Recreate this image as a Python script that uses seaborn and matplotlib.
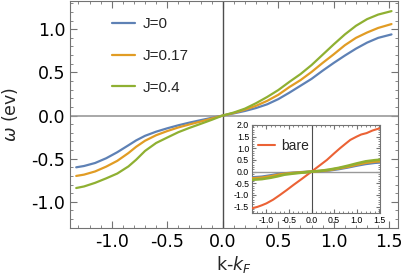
import numpy as np
import pandas as pd
import matplotlib
matplotlib.use('Agg')
import matplotlib.pyplot as plt
from matplotlib.ticker import MultipleLocator, AutoMinorLocator
import seaborn as sns

# Valores
k = [-1.32, -1.25, -1.15, -1.05, -0.95, -0.85, -0.78, -0.70, -0.60, -0.50,
     -0.40, -0.30, -0.20, -0.10, 0.0, 0.10, 0.20, 0.30, 0.40, 0.50,
     0.60, 0.70, 0.80, 0.90, 1.00, 1.10, 1.20, 1.30, 1.40, 1.52]
w_j0 = [-0.600, -0.585, -0.550, -0.495, -0.425, -0.345, -0.288, -0.235, -0.187, -0.148,
        -0.113, -0.082, -0.054, -0.027, 0.0, 0.025, 0.053, 0.087, 0.130, 0.190,
        0.265, 0.345, 0.425, 0.520, 0.610, 0.695, 0.775, 0.845, 0.900, 0.940]
w_j017 = [-0.700, -0.685, -0.648, -0.592, -0.525, -0.435, -0.362, -0.292, -0.228, -0.180,
          -0.138, -0.103, -0.070, -0.035, 0.0, 0.030, 0.068, 0.113, 0.170, 0.240,
          0.330, 0.410, 0.505, 0.610, 0.710, 0.815, 0.900, 0.962, 1.015, 1.060]
w_j04 = [-0.840, -0.822, -0.780, -0.728, -0.672, -0.590, -0.512, -0.410, -0.318, -0.255,
         -0.193, -0.143, -0.097, -0.050, 0.0, 0.035, 0.080, 0.143, 0.215, 0.295,
         0.390, 0.480, 0.585, 0.705, 0.825, 0.940, 1.040, 1.117, 1.170, 1.210]

# Inset
k_in = [-1.32, -1.1, -0.9, -0.75, -0.6, -0.4, -0.2, 0.0, 0.2, 0.4, 0.6, 0.8,
        1.0, 1.2, 1.4, 1.52]
w_in_j0 = [-0.25, -0.22, -0.16, -0.11, -0.078, -0.048, -0.023, 0.0, 0.022, 0.055,
           0.11, 0.18, 0.26, 0.33, 0.38, 0.395]
w_in_j017 = [-0.29, -0.26, -0.20, -0.14, -0.095, -0.058, -0.029, 0.0, 0.029, 0.071,
             0.14, 0.21, 0.30, 0.38, 0.43, 0.445]
w_in_j04 = [-0.35, -0.32, -0.26, -0.20, -0.13, -0.081, -0.041, 0.0, 0.034, 0.09,
            0.16, 0.25, 0.35, 0.44, 0.49, 0.51]

k_bare = [-1.32, -1.2, -1.1, -1.0, -0.85, -0.70, -0.55, -0.40, -0.20, 0.0,
          0.17, 0.34, 0.50, 0.63, 0.75, 0.86, 1.0, 1.1, 1.22, 1.35, 1.45, 1.52]
w_bare = [-1.57, -1.51, -1.44, -1.36, -1.20, -1.0, -0.79, -0.57, -0.29, 0.0,
          0.25, 0.50, 0.78, 1.0, 1.19, 1.36, 1.50, 1.59, 1.65, 1.76, 1.82, 1.86]

labels = ['J=0', 'J=0.17', 'J=0.4']
colors = {'J=0': '#5E81B5', 'J=0.17': '#E19C24', 'J=0.4': '#8FB032', 'bare': '#EB6235'}

df = pd.concat([
    pd.DataFrame({'k': k, 'w': w, 'serie': lab})
    for w, lab in zip([w_j0, w_j017, w_j04], labels)
], ignore_index=True)
df_in = pd.concat([
    pd.DataFrame({'k': k_in, 'w': w, 'serie': lab})
    for w, lab in zip([w_in_j0, w_in_j017, w_in_j04], labels)
], ignore_index=True)
df_bare = pd.DataFrame({'k': k_bare, 'w': w_bare, 'serie': 'bare'})

sns.set_style('ticks')
plt.rcParams['font.family'] = ['DejaVu Sans']
plt.rcParams['axes.unicode_minus'] = True

frame_col = '0.45'


def estilo(ax, size, maj, mino, fam):
    ax.tick_params(which='both', direction='in', top=True, right=True,
                   colors=frame_col, labelcolor='black', labelsize=size)
    ax.tick_params(which='major', length=maj, width=0.8)
    ax.tick_params(which='minor', length=mino, width=0.6)
    ax.xaxis.set_minor_locator(AutoMinorLocator(5))
    ax.yaxis.set_minor_locator(AutoMinorLocator(5))
    for t in ax.get_xticklabels() + ax.get_yticklabels():
        t.set_family(fam)
    for s in ax.spines.values():
        s.set_color(frame_col)
        s.set_linewidth(0.8)


fig = plt.figure(figsize=(4.07, 2.77), dpi=100)
ax = fig.add_axes([0.172, 0.177, 0.806, 0.819])

ax.axhline(0, color='0.6', lw=1.2, zorder=1)
ax.axvline(0, color='0.3', lw=1.0, zorder=1)
sns.lineplot(data=df, x='k', y='w', hue='serie', palette=colors, lw=1.6,
             ax=ax, legend=False, zorder=3)
ax.set_xlim(-1.376, 1.579)
ax.set_ylim(-1.303, 1.326)
ax.xaxis.set_major_locator(MultipleLocator(0.5))
ax.yaxis.set_major_locator(MultipleLocator(0.5))
ax.xaxis.set_major_formatter(plt.FormatStrFormatter('%.1f'))
ax.yaxis.set_major_formatter(plt.FormatStrFormatter('%.1f'))
estilo(ax, 12.5, 5, 2.5, 'DejaVu Sans')
ax.set_xlabel('k-$k_F$', fontsize=12.5, labelpad=2)
ax.set_ylabel(r'$\omega$ (ev)', fontsize=12.5, labelpad=8)

handles = [plt.Line2D([], [], color=colors[l], lw=1.6) for l in labels]
ax.legend(handles, labels, loc='upper left', bbox_to_anchor=(0.128, 0.928),
          frameon=False, prop={'family': 'Liberation Sans', 'size': 11},
          labelspacing=1.15, handlelength=1.5, handletextpad=0.5,
          borderpad=0, borderaxespad=0)

# Inset
ins = fig.add_axes([0.619, 0.232, 0.315, 0.317])
ins.set_facecolor('white')
ins.axhline(0, color='0.6', lw=1.0, zorder=1)
ins.axvline(0, color='0.3', lw=0.8, zorder=1)
sns.lineplot(data=df_bare, x='k', y='w', color=colors['bare'], lw=1.5,
             ax=ins, legend=False, zorder=3)
sns.lineplot(data=df_in, x='k', y='w', hue='serie', palette=colors, lw=1.9,
             ax=ins, legend=False, zorder=3)
ins.set_xlim(-1.32, 1.52)
ins.set_ylim(-1.76, 2.0)
ins.xaxis.set_major_locator(MultipleLocator(0.5))
ins.yaxis.set_major_locator(MultipleLocator(0.5))
ins.xaxis.set_major_formatter(plt.FormatStrFormatter('%.1f'))
ins.yaxis.set_major_formatter(plt.FormatStrFormatter('%.1f'))
estilo(ins, 6.3, 3, 1.5, 'Liberation Sans')
ins.tick_params(which='both', pad=2)
ins.set_xlabel('')
ins.set_ylabel('')
ins.legend([plt.Line2D([], [], color=colors['bare'], lw=1.5)], ['bare'],
           loc='upper left', bbox_to_anchor=(0.047, 0.84), frameon=False,
           prop={'family': 'Liberation Sans', 'size': 10}, handlelength=1.2,
           handletextpad=0.5, borderpad=0, borderaxespad=0)

fig.savefig('out.png', dpi=100)
